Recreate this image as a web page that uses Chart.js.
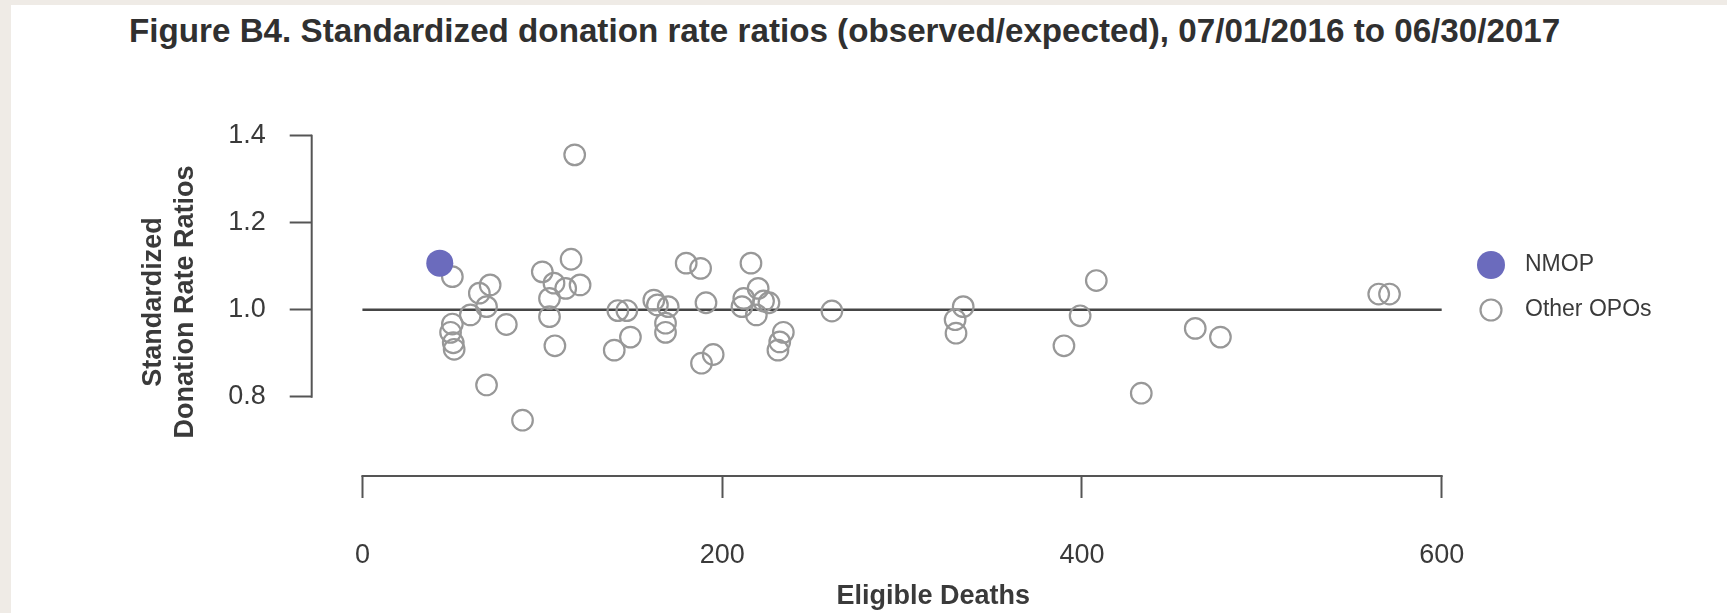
<!DOCTYPE html>
<html>
<head>
<meta charset="utf-8">
<title>Figure B4</title>
<script src="https://cdn.jsdelivr.net/npm/chart.js@4.4.1/dist/chart.umd.min.js"></script>
<style>
  html, body { margin: 0; padding: 0; }
  body { background: #efebe6; width: 1727px; height: 613px; overflow: hidden; }
  #sheet { position: absolute; left: 11px; top: 5px; width: 1716px; height: 608px; background: #fff; }
  #title {
    position: absolute; left: 118px; top: 9px; margin: 0;
    font: bold 33.2px "Liberation Sans", Arial, sans-serif; line-height: 1;
    color: #303030; white-space: nowrap;
  }
  canvas { position: absolute; left: 0; top: 0; }
</style>
</head>
<body>
<div id="sheet">
  <h1 id="title">Figure B4. Standardized donation rate ratios (observed/expected), 07/01/2016 to 06/30/2017</h1>
  <canvas id="chart" width="1716" height="608"></canvas>
</div>
<script>
(function () {
  'use strict';

  // NMOP (highlighted OPO)
  const nmopX = [43];
  const nmopY = [1.107];

  // all other OPOs: eligible deaths / standardized ratio
  const otherX = [
    50, 65, 71, 69, 60, 50, 49, 50.5, 51, 80, 69, 89,
    100, 106.5, 104, 104, 113, 116, 121, 118, 107,
    140, 149, 142, 147, 162, 164, 170, 168.5, 168.5,
    180, 188, 191, 188.5, 195,
    216, 212, 211, 220, 219, 223, 226, 234, 232, 231,
    261, 329.5, 334, 330, 390, 399, 408, 433, 463, 477, 565, 571
  ];
  const otherY = [
    1.076, 1.038, 1.057, 1.007, 0.988, 0.967, 0.948, 0.924, 0.909, 0.966, 0.827, 0.746,
    1.087, 1.061, 1.026, 0.984, 1.049, 1.116, 1.057, 1.356, 0.917,
    0.907, 0.937, 0.998, 0.998, 1.022, 1.011, 1.007, 0.969, 0.948,
    1.107, 1.095, 1.016, 0.877, 0.897,
    1.107, 1.026, 1.007, 1.049, 0.988, 1.020, 1.016, 0.948, 0.926, 0.907,
    0.997, 0.977, 1.007, 0.946, 0.917, 0.986, 1.067, 0.808, 0.957, 0.937, 1.036, 1.036
  ];

  // reference line at ratio 1.0
  const refLineX = [0, 600];
  const refLineY = [1, 1];

  const xTicks = [0, 200, 400, 600];
  const yTicks = [0.8, 1.0, 1.2, 1.4];
  const legendLabels = ['NMOP', 'Other OPOs'];

  const FONT = '"Liberation Sans", Arial, sans-serif';
  const NMOP_COLOR = '#6b6bbd';
  const OTHER_COLOR = '#989898';
  const AXIS_COLOR = '#555555';
  const TEXT_COLOR = '#3a3a3a';

  const toPoints = (xs, ys) => xs.map((x, i) => ({ x: x, y: ys[i] }));

  // R-style axis lines: only from first to last tick
  const axisLines = {
    id: 'axisLines',
    afterDraw(chart) {
      const { ctx, chartArea } = chart;
      const x = chart.scales.x;
      const y = chart.scales.y;
      ctx.save();
      ctx.strokeStyle = AXIS_COLOR;
      ctx.lineWidth = 2;
      ctx.lineCap = 'square';
      ctx.beginPath();
      ctx.moveTo(chartArea.left, y.getPixelForValue(yTicks[0]));
      ctx.lineTo(chartArea.left, y.getPixelForValue(yTicks[yTicks.length - 1]));
      ctx.moveTo(x.getPixelForValue(xTicks[0]), chartArea.bottom);
      ctx.lineTo(x.getPixelForValue(xTicks[xTicks.length - 1]), chartArea.bottom);
      ctx.stroke();
      ctx.restore();
    },
  };

  // legend to the right of the points, like the R legend()
  const sideLegend = {
    id: 'sideLegend',
    afterDraw(chart) {
      const ctx = chart.ctx;
      const left = 1480;
      const rows = [260, 305];
      ctx.save();
      ctx.font = '23px ' + FONT;
      ctx.textBaseline = 'middle';
      ctx.fillStyle = NMOP_COLOR;
      ctx.beginPath();
      ctx.arc(left, rows[0], 14, 0, Math.PI * 2);
      ctx.fill();
      ctx.strokeStyle = OTHER_COLOR;
      ctx.lineWidth = 2.2;
      ctx.beginPath();
      ctx.arc(left, rows[1], 10.5, 0, Math.PI * 2);
      ctx.stroke();
      ctx.fillStyle = TEXT_COLOR;
      ctx.fillText(legendLabels[0], left + 34, rows[0]);
      ctx.fillText(legendLabels[1], left + 34, rows[1]);
      ctx.restore();
    },
  };

  const ctx = document.getElementById('chart').getContext('2d');
  new Chart(ctx, {
    type: 'scatter',
    data: {
      datasets: [
        {
          label: legendLabels[0],
          data: toPoints(nmopX, nmopY),
          backgroundColor: NMOP_COLOR,
          borderColor: NMOP_COLOR,
          borderWidth: 0,
          pointRadius: 13.5,
        },
        {
          label: legendLabels[1],
          data: toPoints(otherX, otherY),
          backgroundColor: 'rgba(0,0,0,0)',
          borderColor: OTHER_COLOR,
          borderWidth: 2.2,
          pointRadius: 10.3,
        },
        {
          type: 'line',
          label: 'ref',
          data: toPoints(refLineX, refLineY),
          borderColor: '#454545',
          borderWidth: 2.4,
          pointRadius: 0,
          fill: false,
        },
      ],
    },
    options: {
      responsive: false,
      animation: false,
      events: [],
      layout: { padding: { left: 0, right: 172, top: 123, bottom: 0 } },
      plugins: {
        legend: { display: false },
        title: { display: false },
        tooltip: { enabled: false },
      },
      scales: {
        x: {
          type: 'linear',
          min: -28.2,
          max: 663,
          afterBuildTicks: (s) => { s.ticks = xTicks.map((v) => ({ value: v })); },
          afterFit: (s) => { s.height = 137; },
          border: { display: false },
          grid: { drawOnChartArea: false, drawTicks: true, tickLength: 22, tickColor: AXIS_COLOR, tickWidth: 2 },
          ticks: {
            padding: 41,
            color: TEXT_COLOR,
            font: { family: FONT, size: 27 },
            callback: (v) => String(v),
          },
          title: {
            display: true,
            text: 'Eligible Deaths',
            color: TEXT_COLOR,
            font: { family: FONT, size: 27, weight: 'bold' },
            padding: { top: 0, bottom: 0 },
          },
        },
        y: {
          type: 'linear',
          min: 0.6177,
          max: 1.4177,
          afterBuildTicks: (s) => { s.ticks = yTicks.map((v) => ({ value: v })); },
          afterFit: (s) => { s.width = 300.7; },
          border: { display: false },
          grid: { drawOnChartArea: false, drawTicks: true, tickLength: 22, tickColor: AXIS_COLOR, tickWidth: 2 },
          ticks: {
            padding: 24,
            color: TEXT_COLOR,
            font: { family: FONT, size: 27 },
            callback: (v) => v.toFixed(1),
          },
          title: {
            display: true,
            text: ['Standardized', 'Donation Rate Ratios'],
            color: TEXT_COLOR,
            font: { family: FONT, size: 27, weight: 'bold' },
            padding: { top: 126, bottom: 0 },
          },
        },
      },
    },
    plugins: [axisLines, sideLegend],
  });
})();
</script>
</body>
</html>
